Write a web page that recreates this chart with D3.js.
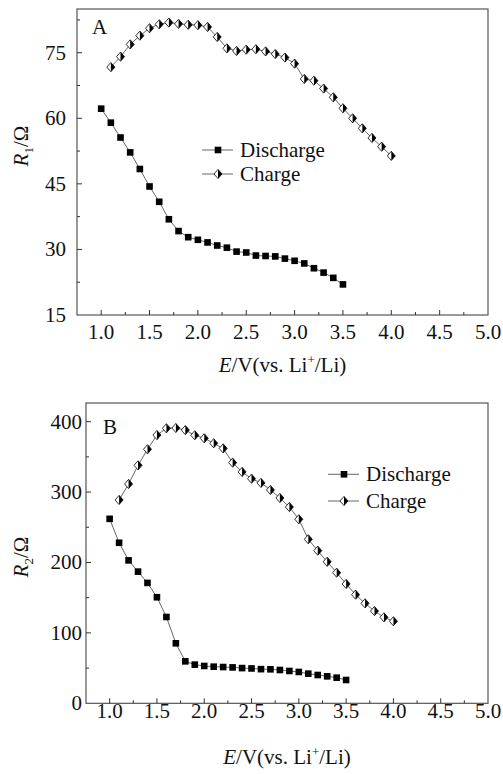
<!DOCTYPE html>
<html>
<head>
<meta charset="utf-8">
<script src="https://cdn.jsdelivr.net/npm/d3@7.9.0/dist/d3.min.js"></script>
<style>
  body { margin: 0; background: #fff; }
</style>
</head>
<body>
<svg id="chart" width="503" height="774" font-family="'Liberation Serif', 'Times New Roman', Times, 'DejaVu Serif', serif"></svg>
<script>
// ---- data ----
const dischargeE = [1.0, 1.1, 1.2, 1.3, 1.4, 1.5, 1.6, 1.7, 1.8, 1.9, 2.0, 2.1, 2.2, 2.3, 2.4, 2.5, 2.6, 2.7, 2.8, 2.9, 3.0, 3.1, 3.2, 3.3, 3.4, 3.5];
const chargeE = [1.1, 1.2, 1.3, 1.4, 1.5, 1.6, 1.7, 1.8, 1.9, 2.0, 2.1, 2.2, 2.3, 2.4, 2.5, 2.6, 2.7, 2.8, 2.9, 3.0, 3.1, 3.2, 3.3, 3.4, 3.5, 3.6, 3.7, 3.8, 3.9, 4.0];

const r1Discharge = [62.2, 59.0, 55.6, 52.2, 48.4, 44.4, 40.9, 36.9, 34.2, 32.8, 32.2, 31.6, 30.9, 30.4, 29.5, 29.3, 28.6, 28.5, 28.4, 27.9, 27.4, 26.8, 25.7, 24.7, 23.5, 22.0];
const r1Charge = [71.7, 74.1, 76.9, 78.9, 80.6, 81.5, 81.9, 81.6, 81.4, 81.3, 80.9, 78.6, 76.0, 75.4, 75.7, 75.8, 75.3, 74.7, 73.9, 72.5, 69.0, 68.6, 66.8, 64.8, 62.3, 60.0, 57.7, 55.5, 53.5, 51.4];

const r2Discharge = [262, 228, 203, 187, 171, 150.6, 122.6, 85.2, 59.6, 54.9, 53, 52, 51.5, 51, 50, 49.5, 48.5, 48.3, 47.3, 45.9, 44.5, 42.1, 40.2, 38.3, 36.4, 33.1];
const r2Charge = [288.8, 311.5, 338, 360.8, 381, 390.6, 391, 388, 380.7, 376.4, 369.3, 362, 341.8, 328.6, 319, 313, 303, 291.6, 278.8, 261.4, 233, 216.8, 201, 185.5, 169.5, 154.3, 142, 131, 122.1, 116.5];

const xTicks = [1.0, 1.5, 2.0, 2.5, 3.0, 3.5, 4.0, 4.5, 5.0];
const yTicksR1 = [15, 30, 45, 60, 75];
const yTicksR2 = [0, 100, 200, 300, 400];
const seriesNames = ['Discharge', 'Charge'];

const svg = d3.select('#chart');

// square marker for discharge
function drawSquare(g, x, y) {
  g.append('rect')
    .attr('x', x - 3.3).attr('y', y - 3.3)
    .attr('width', 6.6).attr('height', 6.6)
    .attr('fill', '#000');
}

// half filled diamond for charge (left open, right black)
function drawDiamond(g, x, y) {
  const w = 4, h = 4.6;
  g.append('path')
    .attr('d', `M${x},${y - h}L${x + w},${y}L${x},${y + h}L${x - w},${y}Z`)
    .attr('fill', '#fff').attr('stroke', '#000').attr('stroke-width', 0.8);
  g.append('path')
    .attr('d', `M${x},${y - h}L${x + w},${y}L${x},${y + h}Z`)
    .attr('fill', '#000');
}

function drawPanel(p) {
  const g = svg.append('g').attr('fill', '#111');
  const x = d3.scaleLinear().domain([0.75, 5.0]).range([p.left, p.right]);
  const y = d3.scaleLinear().domain(p.yDomain).range([p.bottom, p.top]);

  // frame
  g.append('rect')
    .attr('x', p.left).attr('y', p.top)
    .attr('width', p.right - p.left).attr('height', p.bottom - p.top)
    .attr('fill', 'none').attr('stroke', '#555').attr('stroke-width', 1.2);

  // x ticks (inward), majors + minors
  const xMinor = xTicks.map(t => t - 0.25).filter(t => t > 0.75);
  xTicks.filter(t => t < 5.0).forEach(t => {
    g.append('line').attr('x1', x(t)).attr('x2', x(t))
      .attr('y1', p.bottom).attr('y2', p.bottom - 5).attr('stroke', '#333');
  });
  xMinor.forEach(t => {
    g.append('line').attr('x1', x(t)).attr('x2', x(t))
      .attr('y1', p.bottom).attr('y2', p.bottom - 3).attr('stroke', '#333');
  });
  xTicks.forEach(t => {
    g.append('text').attr('x', x(t)).attr('y', p.bottom + p.xLabelOff)
      .attr('text-anchor', 'middle').attr('font-size', 21)
      .text(t.toFixed(1));
  });

  // y ticks
  const step = p.yTicks[1] - p.yTicks[0];
  p.yTicks.forEach((t, i) => {
    if (i > 0) {
      g.append('line').attr('x1', p.left).attr('x2', p.left + 5)
        .attr('y1', y(t)).attr('y2', y(t)).attr('stroke', '#333');
    }
    const m = t + step / 2;
    if (y(m) > p.top) {
      g.append('line').attr('x1', p.left).attr('x2', p.left + 3)
        .attr('y1', y(m)).attr('y2', y(m)).attr('stroke', '#333');
    }
    g.append('text').attr('x', p.left - p.yLabelOff).attr('y', y(t) + 7)
      .attr('text-anchor', 'end').attr('font-size', p.yFont)
      .text(t);
  });

  // lines + markers
  const line = d3.line().x(d => x(d[0])).y(d => y(d[1]));
  const dis = dischargeE.map((e, i) => [e, p.discharge[i]]);
  const chg = chargeE.map((e, i) => [e, p.charge[i]]);
  [dis, chg].forEach(s => {
    g.append('path').datum(s).attr('d', line)
      .attr('fill', 'none').attr('stroke', '#555').attr('stroke-width', 0.9);
  });
  dis.forEach(d => drawSquare(g, x(d[0]), y(d[1])));
  chg.forEach(d => drawDiamond(g, x(d[0]), y(d[1])));

  // panel letter
  g.append('text').attr('x', p.letterX).attr('y', p.letterY)
    .attr('font-size', 21).text(p.letter);

  // legend
  seriesNames.forEach((name, i) => {
    const ly = p.legY + i * p.legGap;
    g.append('line').attr('x1', p.legX).attr('x2', p.legX + 31)
      .attr('y1', ly).attr('y2', ly).attr('stroke', '#555').attr('stroke-width', 0.9);
    if (i === 0) drawSquare(g, p.legX + 16, ly);
    else drawDiamond(g, p.legX + 16, ly);
    g.append('text').attr('x', p.legX + 38).attr('y', ly + 7)
      .attr('font-size', p.legFont).text(name);
  });

  // x axis title
  const xt = g.append('text')
    .attr('x', (p.left + p.right) / 2).attr('y', p.xTitleY)
    .attr('text-anchor', 'middle').attr('font-size', 21);
  xt.append('tspan').attr('font-style', 'italic').text('E');
  xt.append('tspan').text('/V(vs. Li');
  xt.append('tspan').attr('font-size', 13).attr('dy', -8).text('+');
  xt.append('tspan').attr('dy', 8).text('/Li)');

  // y axis title
  const yt = g.append('text')
    .attr('transform', `translate(${p.yTitleX},${p.yTitleY}) rotate(-90)`)
    .attr('text-anchor', 'middle').attr('font-size', 21);
  yt.append('tspan').attr('font-style', 'italic').text('R');
  yt.append('tspan').attr('font-size', 13).attr('dy', 5).text(p.sub);
  yt.append('tspan').attr('dy', -5).text('/Ω');
}

drawPanel({
  left: 77, right: 488, top: 9, bottom: 315,
  yDomain: [15, 85], yTicks: yTicksR1, yFont: 21,
  discharge: r1Discharge, charge: r1Charge,
  xLabelOff: 24, yLabelOff: 11, xTitleY: 372,
  yTitleX: 28, yTitleY: 146, sub: '1',
  letter: 'A', letterX: 92, letterY: 34,
  legX: 202, legY: 150, legGap: 24, legFont: 21
});

drawPanel({
  left: 86, right: 488, top: 403, bottom: 703.3,
  yDomain: [0, 426.5], yTicks: yTicksR2, yFont: 21,
  discharge: r2Discharge, charge: r2Charge,
  xLabelOff: 15, yLabelOff: 4, xTitleY: 764,
  yTitleX: 28, yTitleY: 557, sub: '2',
  letter: 'B', letterX: 103, letterY: 434,
  legX: 328, legY: 474.3, legGap: 26.7, legFont: 21
});
</script>
</body>
</html>
